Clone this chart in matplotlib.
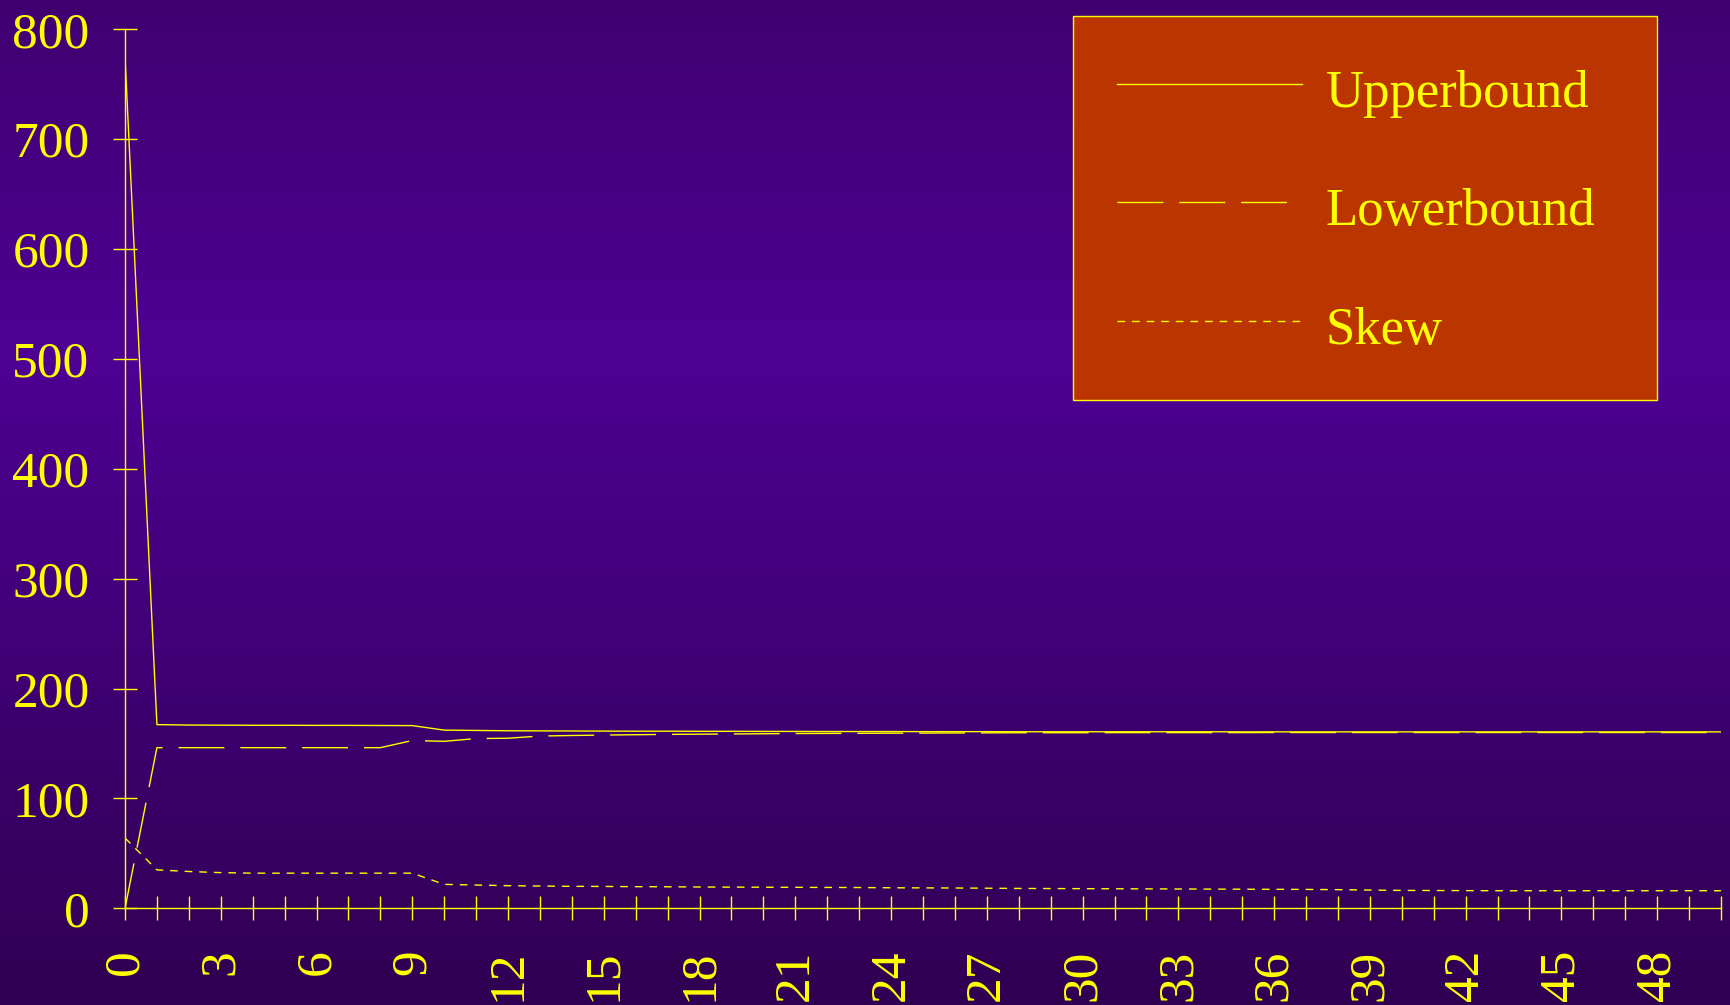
import numpy as np
import matplotlib
matplotlib.use("Agg")
import matplotlib.pyplot as plt
from matplotlib.colors import LinearSegmentedColormap
from matplotlib.ticker import MultipleLocator

# ---------------------------
# Data
# ---------------------------
iterations = list(range(51))

upper = [775, 167.2, 166.8, 166.7, 166.6, 166.6, 166.5, 166.5, 166.4, 166.3,
         162.2, 161.9, 161.6, 161.5, 161.4, 161.3, 161.2, 161.2, 161.1, 161.1,
         161.0, 161.0, 160.9, 160.9, 160.9, 160.8, 160.8, 160.8, 160.7, 160.7,
         160.7, 160.7, 160.7, 160.7, 160.7, 160.6, 160.6, 160.6, 160.6, 160.6,
         160.6, 160.6, 160.6, 160.6, 160.6, 160.6, 160.6, 160.6, 160.6, 160.6,
         160.6]

lower = [0, 146.2, 146.2, 146.2, 146.2, 146.2, 146.2, 146.2, 146.2, 152.7,
         152.0, 154.5, 154.8, 156.8, 157.3, 157.7, 158.0, 158.3, 158.5, 158.7,
         158.9, 159.1, 159.2, 159.3, 159.4, 159.5, 159.6, 159.7, 159.8, 159.8,
         159.8, 159.9, 159.9, 159.9, 159.9, 159.9, 160.0, 160.0, 160.0, 160.0,
         160.0, 160.0, 160.0, 160.0, 160.0, 160.0, 160.0, 160.0, 160.0, 160.0,
         160.0]

skew = [64, 35, 33.5, 32.5, 32, 32, 32, 32, 32, 32,
        21.8, 21.2, 20.6, 20.3, 20.0, 19.9, 19.7, 19.6, 19.4, 19.3,
        19.2, 19.1, 19.0, 18.9, 18.7, 18.6, 18.5, 18.3, 18.1, 18.0,
        17.9, 17.8, 17.7, 17.6, 17.5, 17.4, 17.3, 17.2, 17.0, 16.6,
        16.3, 16.2, 16.1, 16.0, 16.0, 16.0, 16.0, 16.0, 16.0, 16.0,
        16.0]

# ---------------------------
# Style
# ---------------------------
YELLOW = "#ffff00"
plt.rcParams.update({
    "font.family": ["Liberation Serif", "DejaVu Serif"],
    "font.size": 37,
})

fig = plt.figure(figsize=(17.3, 10.05), dpi=100)

# purple gradient background
bg = fig.add_axes([0, 0, 1, 1], zorder=-10)
grad = LinearSegmentedColormap.from_list(
    "bg", [(0.0, "#2f0052"), (0.65, "#4f0094"), (1.0, "#400070")])
bg.imshow(np.linspace(0, 1, 256).reshape(-1, 1), aspect="auto", cmap=grad,
          origin="lower", extent=[0, 1, 0, 1])
bg.axis("off")

ax = fig.add_axes([0.07225, 0.0962, 0.92254, 0.8746])
ax.patch.set_alpha(0)

ax.plot(iterations, upper, color=YELLOW, lw=1.0, label="Upperbound")
ax.plot(iterations, lower, color=YELLOW, lw=1.0, linestyle=(0, (33, 11.5)),
        label="Lowerbound")
ax.plot(iterations, skew, color=YELLOW, lw=1.0, linestyle=(0, (5.5, 5)),
        label="Skew")

ax.set_xlim(0, 50)
ax.set_ylim(0, 800)
ax.xaxis.set_major_locator(MultipleLocator(3))
ax.xaxis.set_minor_locator(MultipleLocator(1))
ax.yaxis.set_major_locator(MultipleLocator(100))

for side in ["top", "right"]:
    ax.spines[side].set_visible(False)
for side in ["left", "bottom"]:
    ax.spines[side].set_color(YELLOW)
    ax.spines[side].set_linewidth(1.0)

ax.tick_params(axis="both", which="both", direction="inout", length=17,
               width=1.0, color=YELLOW, labelcolor=YELLOW, labelsize=37)
ax.tick_params(axis="x", which="major", pad=21, labelrotation=90)
ax.tick_params(axis="y", which="major", pad=17)

leg = ax.legend(loc="upper left", bbox_to_anchor=(0.5937, 0.5788, 0.3662, 0.4369),
                mode="expand", borderaxespad=0, borderpad=0.85, labelspacing=1.16,
                handlelength=3.5, handleheight=1.29, handletextpad=0.45,
                fancybox=False, framealpha=1, facecolor="#bb3500",
                edgecolor=YELLOW, fontsize=38, labelcolor=YELLOW)
leg.get_frame().set_linewidth(1.0)

fig.savefig("out.png", dpi=100)
